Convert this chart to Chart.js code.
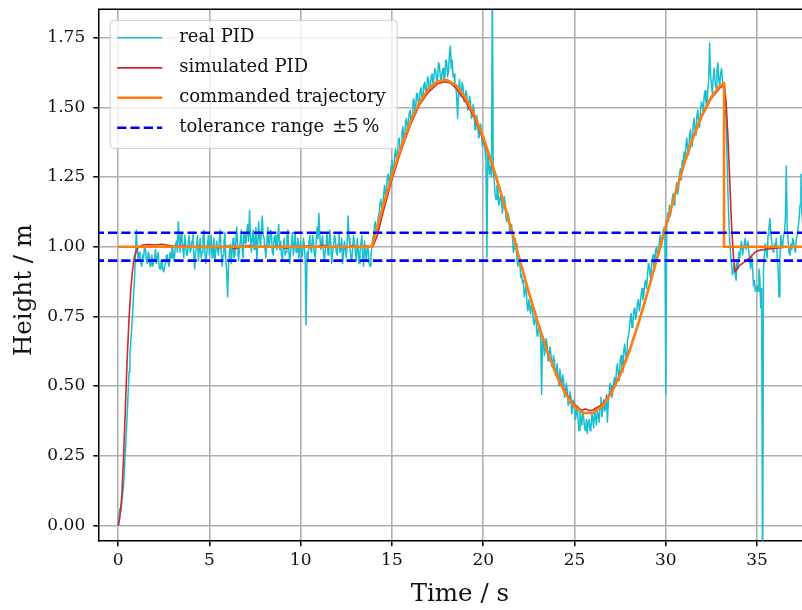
<!DOCTYPE html>
<html>
<head>
<meta charset="utf-8">
<script src="https://cdn.jsdelivr.net/npm/chart.js@4.4.1/dist/chart.umd.min.js"></script>
<style>
  html, body { margin: 0; padding: 0; background: #fff; overflow: hidden; }
  #wrap { width: 830px; height: 610px; }
</style>
</head>
<body>
<div id="wrap"><canvas id="heightChart" width="830" height="610"></canvas></div>
<script>
/*************************************************
 * Data
 *************************************************/

// real PID: sampled every 0.05 s starting at t = 0, one row per second
const realStep = 0.05;
const realHeight = [
  0.00, 0.03, 0.06, 0.05, 0.08, 0.11, 0.14, 0.20, 0.26, 0.33, 0.40, 0.47, 0.55, 0.62, 0.66, 0.71, 0.76, 0.83, 0.88, 0.97,
  1.06, 0.99, 0.95, 0.98, 0.97, 0.94, 0.93, 0.97, 0.96, 1.00, 0.99, 0.95, 0.94, 0.98, 0.97, 0.93, 0.95, 0.97, 0.93, 0.95,
  0.96, 0.99, 0.94, 0.96, 0.98, 0.93, 0.92, 0.95, 0.95, 0.92, 0.91, 0.93, 0.94, 0.97, 0.97, 0.94, 0.93, 0.98, 0.96, 1.00,
  0.99, 0.95, 0.97, 1.01, 1.02, 0.98, 1.09, 1.03, 0.98, 1.05, 1.03, 0.99, 0.96, 1.04, 1.01, 0.97, 0.97, 1.02, 1.04, 0.98,
  0.99, 1.02, 1.05, 0.97, 0.92, 0.98, 1.00, 1.04, 0.95, 0.99, 1.03, 0.96, 0.98, 1.03, 1.06, 0.99, 0.94, 0.97, 1.01, 1.04,
  0.97, 1.00, 1.04, 0.96, 0.99, 1.03, 0.95, 0.98, 1.02, 0.99, 0.97, 1.03, 1.06, 0.98, 0.93, 0.97, 1.01, 1.05, 0.96, 0.91,
  0.82, 0.93, 0.98, 1.01, 0.94, 0.99, 1.03, 0.96, 0.97, 1.02, 1.07, 1.00, 0.95, 0.99, 1.02, 1.06, 0.99, 0.96, 1.05, 1.02,
  1.01, 1.05, 1.08, 1.02, 1.13, 1.04, 0.98, 1.03, 1.06, 0.99, 1.02, 1.07, 0.95, 1.01, 1.09, 1.03, 1.00, 1.06, 1.11, 1.04,
  1.03, 0.99, 0.96, 1.02, 1.07, 1.00, 1.01, 1.06, 1.05, 0.98, 0.97, 1.03, 1.04, 1.00, 0.99, 1.04, 1.08, 0.99, 1.02, 0.97,
  0.95, 1.00, 1.03, 0.97, 0.98, 1.04, 1.06, 0.99, 0.94, 0.98, 1.01, 1.05, 0.97, 1.00, 1.05, 0.98, 0.99, 1.03, 0.96, 1.00,
  1.02, 0.96, 0.97, 1.03, 1.01, 0.95, 0.72, 0.98, 0.95, 1.01, 1.04, 0.99, 0.98, 1.04, 1.02, 0.97, 0.96, 1.01, 1.07, 1.03,
  1.12, 1.04, 0.99, 1.02, 1.04, 0.98, 0.95, 0.99, 1.01, 1.05, 0.97, 1.00, 1.06, 1.01, 0.94, 0.98, 1.00, 1.04, 1.03, 0.98,
  0.97, 1.01, 1.05, 0.98, 0.99, 1.03, 0.94, 0.98, 1.02, 0.99, 0.96, 1.02, 1.11, 1.03, 1.00, 0.96, 0.95, 1.00, 1.04, 1.01,
  0.98, 0.95, 1.03, 0.99, 0.94, 0.98, 1.01, 1.04, 0.96, 0.93, 1.02, 0.98, 0.95, 1.00, 0.99, 0.94, 0.93, 0.97, 1.00, 1.03,
  1.04, 1.08, 1.09, 1.05, 1.06, 1.11, 1.12, 1.16, 1.17, 1.13, 1.14, 1.19, 1.22, 1.18, 1.20, 1.25, 1.26, 1.22, 1.24, 1.29,
  1.31, 1.27, 1.28, 1.33, 1.35, 1.31, 1.33, 1.38, 1.39, 1.35, 1.36, 1.41, 1.43, 1.38, 1.40, 1.45, 1.46, 1.42, 1.44, 1.48,
  1.49, 1.45, 1.47, 1.52, 1.53, 1.49, 1.50, 1.55, 1.55, 1.51, 1.52, 1.56, 1.57, 1.53, 1.54, 1.58, 1.59, 1.55, 1.56, 1.61,
  1.60, 1.56, 1.57, 1.61, 1.62, 1.58, 1.58, 1.64, 1.63, 1.59, 1.60, 1.66, 1.65, 1.61, 1.59, 1.63, 1.64, 1.60, 1.61, 1.67,
  1.66, 1.61, 1.63, 1.69, 1.72, 1.64, 1.67, 1.61, 1.62, 1.57, 1.58, 1.53, 1.46, 1.56, 1.60, 1.54, 1.55, 1.59, 1.57, 1.52,
  1.53, 1.56, 1.55, 1.49, 1.50, 1.54, 1.52, 1.46, 1.47, 1.51, 1.49, 1.42, 1.43, 1.47, 1.45, 1.39, 1.40, 1.44, 1.42, 1.36,
  1.37, 1.39, 1.35, 1.30, 0.96, 1.33, 1.31, 1.26, 1.29, 1.25, 1.95, 1.27, 1.24, 1.19, 1.17, 1.22, 1.21, 1.15, 1.16, 1.19,
  1.17, 1.12, 1.15, 1.18, 1.16, 1.10, 1.09, 1.12, 1.11, 1.05, 1.06, 1.08, 1.04, 0.98, 0.99, 1.03, 1.01, 0.95, 0.93, 0.96,
  0.95, 0.89, 0.90, 0.87, 0.88, 0.82, 0.84, 0.86, 0.79, 0.77, 0.81, 0.78, 0.76, 0.80, 0.78, 0.73, 0.72, 0.75, 0.74, 0.68,
  0.69, 0.72, 0.71, 0.66, 0.47, 0.68, 0.66, 0.61, 0.63, 0.67, 0.65, 0.59, 0.60, 0.64, 0.62, 0.57, 0.58, 0.61, 0.59, 0.54,
  0.55, 0.58, 0.53, 0.50, 0.56, 0.52, 0.50, 0.54, 0.52, 0.46, 0.47, 0.51, 0.49, 0.43, 0.44, 0.48, 0.46, 0.40, 0.42, 0.45,
  0.44, 0.38, 0.40, 0.43, 0.37, 0.34, 0.41, 0.38, 0.36, 0.41, 0.39, 0.35, 0.34, 0.38, 0.33, 0.37, 0.38, 0.34, 0.35, 0.40,
  0.38, 0.35, 0.42, 0.39, 0.36, 0.41, 0.40, 0.37, 0.43, 0.46, 0.39, 0.42, 0.45, 0.41, 0.42, 0.47, 0.37, 0.44, 0.47, 0.51,
  0.50, 0.46, 0.48, 0.52, 0.53, 0.50, 0.56, 0.58, 0.54, 0.52, 0.59, 0.61, 0.57, 0.55, 0.63, 0.65, 0.61, 0.59, 0.66, 0.68,
  0.70, 0.74, 0.76, 0.71, 0.73, 0.77, 0.78, 0.74, 0.76, 0.80, 0.81, 0.77, 0.79, 0.83, 0.85, 0.81, 0.83, 0.87, 0.88, 0.85,
  0.90, 0.94, 0.93, 0.89, 0.91, 0.95, 0.97, 0.93, 0.95, 0.99, 1.00, 0.96, 0.98, 1.02, 1.04, 1.00, 1.02, 1.06, 1.07, 1.04,
  0.47, 1.08, 1.12, 1.09, 1.15, 1.11, 1.13, 1.17, 1.19, 1.15, 1.17, 1.21, 1.23, 1.19, 1.21, 1.26, 1.28, 1.24, 1.31, 1.29,
  1.34, 1.31, 1.36, 1.39, 1.35, 1.33, 1.40, 1.42, 1.38, 1.36, 1.44, 1.46, 1.42, 1.40, 1.47, 1.49, 1.45, 1.43, 1.49, 1.52,
  1.51, 1.48, 1.54, 1.56, 1.52, 1.50, 1.56, 1.60, 1.73, 1.62, 1.58, 1.55, 1.61, 1.64, 1.59, 1.57, 1.63, 1.66, 1.60, 1.58,
  1.62, 1.64, 1.60, 1.57, 1.58, 1.52, 1.45, 1.33, 1.20, 1.10, 1.02, 0.97, 0.94, 0.90, 0.91, 0.94, 0.90, 0.88, 0.95, 0.92,
  0.98, 0.96, 1.00, 1.02, 0.97, 0.99, 1.01, 1.03, 0.99, 1.01, 1.02, 0.98, 0.95, 0.92, 0.97, 0.93, 0.86, 0.88, 0.84, 0.85,
  0.86, 0.84, 0.92, 0.89, 0.78, 0.85, -0.30, 0.92, 0.97, 1.01, 0.99, 0.96, 1.04, 1.07, 1.10, 1.05, 1.02, 0.99, 0.98, 1.01,
  1.00, 1.03, 0.97, 0.92, 0.82, 0.95, 1.04, 1.01, 1.00, 1.04, 1.05, 1.10, 1.29, 1.06, 1.02, 0.98, 0.97, 1.01, 0.99, 1.03,
  1.02, 0.99, 0.98, 1.03, 1.04, 1.07, 1.10, 1.15, 1.26, 1.12, 1.08, 1.03, 1.01, 0.99, 0.97, 1.02, 1.03, 0.98, 0.99, 1.02,
  1.02, 0.99, 0.98, 1.01, 1.01, 0.98, 1.00, 1.02, 0.99, 0.97, 1.00
];

// simulated PID
const simTime = [
  0, 0.1, 0.2, 0.3, 0.4, 0.5, 0.6, 0.7, 0.8, 0.9, 1.0, 1.1, 1.3, 1.6,
  2.0, 2.4, 2.8, 3.2, 3.6, 4.0, 4.4, 4.8, 5.2, 5.6, 6.0, 6.4, 6.8, 7.2, 7.6,
  8.0, 8.4, 8.8, 9.2, 9.6, 10.0, 10.4, 10.8, 11.2, 11.6, 12.0, 12.4, 12.8,
  13.2, 13.6, 13.95, 14.2, 14.5, 15.0, 15.5, 16.0, 16.5, 17.0, 17.5, 17.9,
  18.2, 18.5, 19.0, 19.5, 20.0, 20.5, 21.0, 21.5, 22.0, 22.5, 23.0, 23.5,
  24.0, 24.5, 25.0, 25.4, 25.6, 25.8, 26.0, 26.5, 27.0, 27.5, 28.0, 28.5,
  29.0, 29.5, 30.0, 30.5, 31.0, 31.5, 32.0, 32.5, 33.0, 33.2, 33.3, 33.4,
  33.5, 33.6, 33.7, 33.8, 33.9, 34.0, 34.2, 34.4, 34.6, 34.8, 35.0, 35.4,
  36.0, 36.8, 37.5, 38.5
];
const simHeight = [
  0.00, 0.03, 0.10, 0.24, 0.42, 0.60, 0.74, 0.85, 0.92, 0.965, 0.985, 0.997, 1.005, 1.008,
  1.006, 1.009, 1.004, 1.000, 1.003, 0.998, 1.002, 0.997, 1.000, 0.996, 1.003, 0.993, 1.001, 1.004, 0.997,
  1.002, 0.998, 1.002, 0.995, 1.001, 0.998, 1.003, 0.999, 1.006, 0.998, 1.001, 0.997, 1.003,
  0.999, 1.002, 1.000, 1.04, 1.12, 1.24, 1.345, 1.435, 1.508, 1.555, 1.585, 1.592,
  1.588, 1.570, 1.525, 1.465, 1.385, 1.290, 1.185, 1.072, 0.955, 0.838, 0.728, 0.630,
  0.545, 0.478, 0.432, 0.413, 0.418, 0.412, 0.414, 0.433, 0.478, 0.544, 0.628, 0.728,
  0.838, 0.955, 1.072, 1.186, 1.294, 1.390, 1.470, 1.533, 1.572, 1.585, 1.52, 1.40,
  1.24, 1.08, 0.97, 0.91, 0.92, 0.93, 0.94, 0.95, 0.96, 0.975, 0.985, 0.99,
  0.995, 1.0, 1.0, 1.0
];

// commanded trajectory
const cmdTime = [
  0, 13.9, 14.0, 14.5, 15.0, 15.5, 16.0, 16.5, 17.0, 17.5, 18.0, 18.5,
  19.0, 19.5, 20.0, 20.5, 21.0, 21.5, 22.0, 22.5, 23.0, 23.5, 24.0, 24.5,
  25.0, 25.5, 26.0, 26.5, 27.0, 27.5, 28.0, 28.5, 29.0, 29.5, 30.0, 30.5,
  31.0, 31.5, 32.0, 32.5, 33.0, 33.19, 33.19, 38.5
];
const cmdHeight = [
  1.0, 1.0, 1.024, 1.142, 1.254, 1.357, 1.445, 1.516, 1.566, 1.594, 1.599, 1.580,
  1.538, 1.475, 1.394, 1.296, 1.187, 1.071, 0.952, 0.835, 0.725, 0.626, 0.540, 0.472,
  0.426, 0.403, 0.403, 0.427, 0.473, 0.539, 0.624, 0.724, 0.835, 0.953, 1.071, 1.186,
  1.296, 1.394, 1.475, 1.538, 1.580, 1.587, 1.0, 1.0
];

// tolerance band +-5 %
const tolLevels = [1.05, 0.95];
const tolSpan = [-2, 40];

// axes
const xRange = [-1.06, 38.5];
const yRange = [-0.055, 1.852];
const xStep = 5;
const yStep = 0.25;

const legendLabels = ["real PID", "simulated PID", "commanded trajectory", "tolerance range"];
const yTitle = "Height / m";

/*************************************************
 * Helpers
 *************************************************/
const pairs = (xs, ys) => ys.map((y, i) => ({ x: xs[i], y }));
const realPoints = realHeight.map((y, i) => ({ x: +(i * realStep).toFixed(2), y }));

const SERIF = '"DejaVu Serif", "Liberation Serif", serif';
const COLORS = {
  real: "#17becf",
  sim: "#d62728",
  cmd: "#ff7f0e",
  tol: "#0000ff"
};

/*************************************************
 * Legend inside the axes, top spine, y label
 *************************************************/
const frameLegend = {
  id: "frameLegend",
  afterDraw(chart) {
    const { ctx, chartArea: a } = chart;
    ctx.save();

    // top spine
    ctx.strokeStyle = "#000";
    ctx.lineWidth = 1.5;
    ctx.beginPath();
    ctx.moveTo(a.left - 0.75, a.top);
    ctx.lineTo(a.right, a.top);
    ctx.stroke();

    // y label (sits a little below the axes centre in the reference)
    ctx.save();
    ctx.translate(25, (a.top + a.bottom) / 2 + 15);
    ctx.rotate(-Math.PI / 2);
    ctx.font = "24.5px " + SERIF;
    ctx.fillStyle = "#111";
    ctx.textAlign = "center";
    ctx.textBaseline = "middle";
    ctx.fillText(yTitle, 0, 0);
    ctx.restore();

    // legend
    const bx = a.left + 11.5, by = a.top + 11, bw = 287, bh = 128;
    ctx.globalAlpha = 0.8;
    ctx.fillStyle = "#fff";
    ctx.strokeStyle = "#cccccc";
    ctx.lineWidth = 1.2;
    ctx.beginPath();
    ctx.roundRect(bx, by, bw, bh, 4);
    ctx.fill();
    ctx.stroke();
    ctx.globalAlpha = 1;

    const styles = [
      { color: COLORS.real, width: 1.6, dash: [] },
      { color: COLORS.sim, width: 1.8, dash: [] },
      { color: COLORS.cmd, width: 2.6, dash: [] },
      { color: COLORS.tol, width: 2.6, dash: [9.25, 4] }
    ];
    ctx.font = "18px " + SERIF;
    ctx.textBaseline = "middle";
    ctx.fillStyle = "#111";
    legendLabels.forEach((label, i) => {
      const y = by + 17.5 + i * 30;
      const s = styles[i];
      ctx.strokeStyle = s.color;
      ctx.lineWidth = s.width;
      ctx.setLineDash(s.dash);
      ctx.beginPath();
      ctx.moveTo(bx + 7, y);
      ctx.lineTo(bx + 52, y);
      ctx.stroke();
      ctx.setLineDash([]);
      ctx.fillText(label, bx + 69, y);
      if (i === 3) ctx.fillText("\u00b15\u2009%", bx + 222, y);
    });
    ctx.restore();
  }
};

/*************************************************
 * Chart
 *************************************************/
const tickFont = { family: SERIF, size: 17 };
const titleFont = { family: SERIF, size: 24.5 };

new Chart(document.getElementById("heightChart"), {
  type: "line",
  data: {
    datasets: [
      {
        label: "tolerance upper",
        data: pairs(tolSpan, [tolLevels[0], tolLevels[0]]),
        borderColor: COLORS.tol, borderWidth: 2.6, borderDash: [9.25, 4]
      },
      {
        label: "tolerance lower",
        data: pairs(tolSpan, [tolLevels[1], tolLevels[1]]),
        borderColor: COLORS.tol, borderWidth: 2.6, borderDash: [9.25, 4]
      },
      {
        label: legendLabels[2],
        data: pairs(cmdTime, cmdHeight),
        borderColor: COLORS.cmd, borderWidth: 2.6
      },
      {
        label: legendLabels[1],
        data: pairs(simTime, simHeight),
        borderColor: COLORS.sim, borderWidth: 1.6
      },
      {
        label: legendLabels[0],
        data: realPoints,
        borderColor: COLORS.real, borderWidth: 1.5
      }
    ]
  },
  options: {
    responsive: false,
    animation: false,
    devicePixelRatio: 1,
    layout: { padding: { top: 9.3, right: 9, left: 0, bottom: 0 } },
    elements: {
      point: { radius: 0, hoverRadius: 0 },
      line: { tension: 0, fill: false, borderJoinStyle: "round", borderCapStyle: "butt" }
    },
    plugins: { legend: { display: false }, tooltip: { enabled: false } },
    scales: {
      x: {
        type: "linear",
        min: xRange[0],
        max: xRange[1],
        afterFit(scale) { scale.height = 69.3; },
        ticks: {
          stepSize: xStep,
          includeBounds: false,
          color: "#111",
          font: tickFont,
          padding: 4,
          maxRotation: 0,
          callback: v => String(v)
        },
        grid: {
          color: "#b0b0b0",
          lineWidth: 1.6,
          tickColor: "#000",
          tickLength: 5.5,
          tickWidth: 1.5
        },
        border: { color: "#000", width: 1.5 },
        title: {
          display: true,
          text: "Time / s",
          color: "#111",
          font: titleFont,
          padding: { top: 0, bottom: 1 }
        }
      },
      y: {
        type: "linear",
        min: yRange[0],
        max: yRange[1],
        afterFit(scale) {
          scale.width = 98.7;
          scale.paddingTop = 0;
          scale.paddingBottom = 0;
        },
        ticks: {
          stepSize: yStep,
          includeBounds: false,
          color: "#111",
          font: tickFont,
          padding: 8,
          callback: v => v.toFixed(2)
        },
        grid: {
          color: "#b0b0b0",
          lineWidth: 1.6,
          tickColor: "#000",
          tickLength: 5.5,
          tickWidth: 1.5
        },
        border: { color: "#000", width: 1.5 },
        title: { display: false }
      }
    }
  },
  plugins: [frameLegend]
});
</script>
</body>
</html>
